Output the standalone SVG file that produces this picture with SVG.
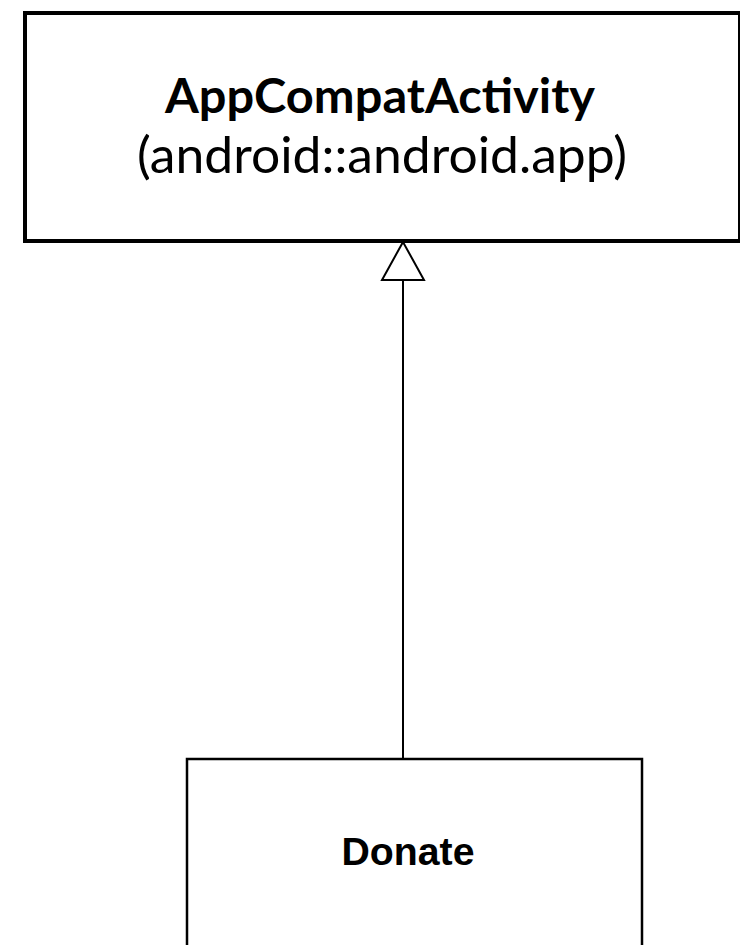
<svg xmlns="http://www.w3.org/2000/svg" width="740" height="945" viewBox="0 0 740 945">
<style>
.box{fill:#fff;stroke:#000}
.conn{stroke:#000;stroke-width:2;fill:none}
.head{fill:#fff;stroke:#000;stroke-width:2;stroke-linejoin:miter}
.t1{font-family:Lato,"Open Sans",sans-serif;font-weight:bold;font-size:47px;fill:#000}
.t2{font-family:Lato,"Open Sans",sans-serif;font-size:50px;fill:#000}
.t3{font-family:"Liberation Sans",Arial,sans-serif;font-weight:bold;font-size:39px;fill:#000}
</style>
<rect width="740" height="945" fill="#fff"/>
<g id="connectors">
<line class="conn" x1="403" y1="280" x2="403" y2="759"/>
<polygon class="head" points="403,242 382,280 424,280"/>
</g>
<g id="node-appcompat">
<rect class="box" x="25" y="13" width="715" height="228" stroke-width="4"/>
<text class="t1" x="380" y="113" text-anchor="middle" textLength="430" lengthAdjust="spacingAndGlyphs">AppCompatActivity</text>
<text class="t2" x="382" y="173" text-anchor="middle" textLength="490" lengthAdjust="spacingAndGlyphs">(android::android.app)</text>
</g>
<g id="node-donate">
<rect class="box" x="187" y="759" width="455" height="220" stroke-width="2.5"/>
<text class="t3" x="408" y="865" text-anchor="middle" textLength="133" lengthAdjust="spacingAndGlyphs">Donate</text>
</g>
</svg>
